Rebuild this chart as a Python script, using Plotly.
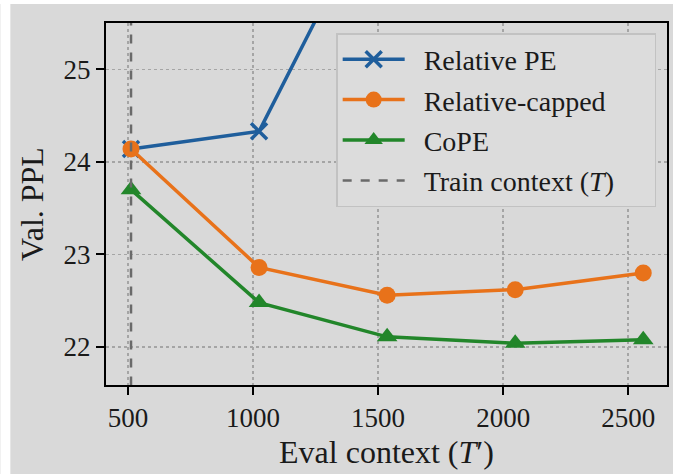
import plotly.graph_objects as go

# Data
eval_ctx = [512, 1024, 1536, 2048, 2560]
relative_pe = [24.14, 24.33, 27.05, 30.0, 33.0]
relative_capped = [24.14, 22.86, 22.56, 22.62, 22.80]
cope = [23.70, 22.48, 22.11, 22.04, 22.08]
train_ctx = 512
x_ticks = [500, 1000, 1500, 2000, 2500]
y_ticks = [22, 23, 24, 25]

BG = "#d9d9d9"
FONT = "Liberation Serif"
FS = 27
LFS = 28
NB = "\u00a0\u00a0"

W, H = 673, 474
ML, MR, MT, MB = 106, 4, 23, 89
PW, PH = W - ML - MR, H - MT - MB

fig = go.Figure()

fig.add_trace(go.Scatter(
    x=eval_ctx, y=relative_pe, mode="lines+markers", name=NB + "Relative PE",
    line=dict(color="#1f5e9c", width=3.5),
    marker=dict(symbol="x-thin", size=16, line=dict(color="#1f5e9c", width=3.5)),
    legendgroup="a",
))
fig.add_trace(go.Scatter(
    x=eval_ctx, y=relative_capped, mode="lines+markers", name=NB + "Relative-capped",
    line=dict(color="#e8721a", width=3.5),
    marker=dict(symbol="circle", size=17, color="#e8721a"),
    legendgroup="b",
))
fig.add_trace(go.Scatter(
    x=eval_ctx, y=cope, mode="lines+markers", name=NB + "CoPE",
    line=dict(color="#22862a", width=3.5),
    marker=dict(symbol="triangle-up", size=18, color="#22862a"),
    legendgroup="c",
))
fig.add_trace(go.Scatter(
    x=[train_ctx, train_ctx], y=[21.0, 26.0], mode="lines",
    name=NB + "Train context (<i>T</i>)" + "\u00a0" * 5,
    line=dict(color="#6a6a6a", width=2.5, dash="dash"),
    legendgroup="d",
))

fig.update_layout(
    width=W, height=H,
    margin=dict(l=ML, r=MR, t=MT, b=MB),
    paper_bgcolor=BG, plot_bgcolor=BG,
    font=dict(family=FONT, size=FS, color="#1a1a1a"),
    showlegend=True,
    hovermode=False,
    legend=dict(
        x=(337 - ML) / PW, y=1 - (33 - MT) / PH, xanchor="left", yanchor="top",
        bgcolor="#dcdcdc", bordercolor="#c2c2c2", borderwidth=1.5,
        font=dict(family=FONT, size=LFS, color="#1a1a1a"),
        itemwidth=62, tracegroupgap=1,
    ),
    shapes=[
        # thin white strips at the left and top edges of the picture
        dict(type="rect", xref="paper", yref="paper",
             x0=-ML / PW, x1=(10 - ML) / PW, y0=-MB / PH - 0.01, y1=1 + MT / PH + 0.01,
             fillcolor="white", line=dict(width=0), layer="above"),
        dict(type="rect", xref="paper", yref="paper",
             x0=-ML / PW - 0.01, x1=1 + MR / PW + 0.01, y0=1 + (MT - 4) / PH, y1=1 + MT / PH + 0.01,
             fillcolor="white", line=dict(width=0), layer="above"),
    ],
)

fig.update_xaxes(
    range=[412, 2655], tickvals=x_ticks, ticktext=[str(v) for v in x_ticks],
    showline=True, linecolor="black", linewidth=2, mirror=True,
    ticks="outside", ticklen=8, tickwidth=2, tickcolor="black",
    showgrid=True, gridcolor="#a5a5a5", griddash="dot", gridwidth=1.5,
    zeroline=False,
    title=dict(text="Eval context (<i>T</i>′)", standoff=8),
    tickfont=dict(family=FONT, size=FS),
)
fig.update_yaxes(
    range=[21.59, 25.5], tickvals=y_ticks, ticktext=[str(v) for v in y_ticks],
    showline=True, linecolor="black", linewidth=2, mirror=True,
    ticks="outside", ticklen=8, tickwidth=2, tickcolor="black",
    showgrid=True, gridcolor="#a5a5a5", griddash="dot", gridwidth=1.5,
    zeroline=False,
    title=dict(text="Val. PPL", standoff=10),
    tickfont=dict(family=FONT, size=FS),
)

fig.write_html(
    "out.html",
    config={"displayModeBar": False, "staticPlot": True},
    post_script=(
        "document.documentElement.style.overflow='hidden';"
        "document.body.style.overflow='hidden';"
        "document.body.style.margin='0';"
    ),
)
